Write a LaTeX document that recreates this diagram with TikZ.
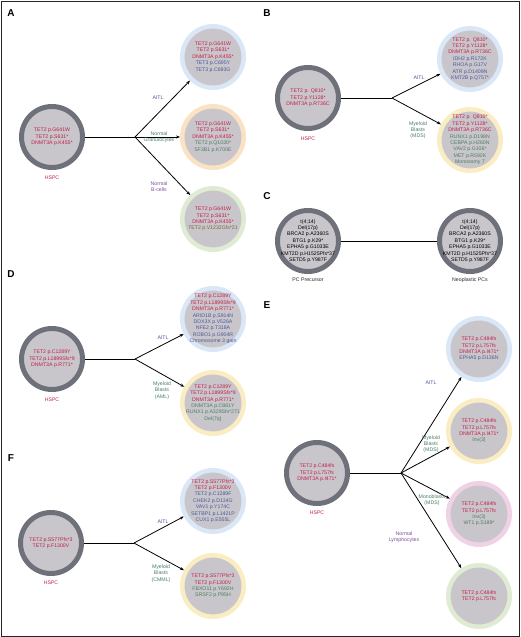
\documentclass[tikz,border=0pt]{standalone}
\usepackage{fontspec}
\setmainfont{Liberation Sans}
\usetikzlibrary{arrows.meta}
\definecolor{tred}{RGB}{194,31,74}
\definecolor{tblue}{RGB}{74,90,156}
\definecolor{tgreen}{RGB}{74,127,99}
\definecolor{tpurple}{RGB}{123,79,154}
\definecolor{tolive}{RGB}{122,100,58}
\definecolor{hsring}{RGB}{110,112,122}
\definecolor{cellfill}{RGB}{201,198,203}
\definecolor{rblue}{RGB}{218,231,247}
\definecolor{rorange}{RGB}{249,227,196}
\definecolor{ryellow}{RGB}{250,237,196}
\definecolor{rgreen}{RGB}{224,235,211}
\definecolor{rpink}{RGB}{240,210,230}
\newcommand{\redln}[1]{\textcolor{tred}{#1}}
\newcommand{\bluln}[1]{\textcolor{tblue}{#1}}
\newcommand{\grnln}[1]{\textcolor{tgreen}{#1}}
\newcommand{\olvln}[1]{\textcolor{tolive}{#1}}
\tikzset{
  ring/.style={circle, draw=#1, line width=4.5pt, fill=cellfill, minimum size=61.5pt, inner sep=0pt},
  hsring/.style={circle, draw=hsring, line width=5pt, fill=cellfill, minimum size=61pt, inner sep=0pt},
  celltext/.style={align=center, inner sep=0pt, font=\fontsize{5.2}{6.4}\selectfont},
  lbl/.style={align=center, inner sep=0pt, font=\fontsize{5.2}{6.3}\selectfont},
  panel/.style={inner sep=0pt, font=\fontsize{10}{12}\selectfont\bfseries},
  conn/.style={line width=0.8pt, black},
  arr/.style={line width=0.8pt, black, -{Stealth[length=4pt,width=3pt]}}
}
\begin{document}
\begin{tikzpicture}[x=1pt,y=-1pt]
\useasboundingbox (0,0) rectangle (520,637);
\draw[line width=1pt, black!85] (1,1) rectangle (519,636);

% ---------- Panel A
\node[panel] (pA) at (11,13) {A};
\node[hsring] (ha) at (52,137) {};
\node[celltext] (hat) at (ha) {\redln{TET2 p.G641W}\\\redln{TET2 p.S631*}\\\redln{DNMT3A p.K455*}};
\node[lbl, text=tred] (hal) at (52,178) {HSPC};
\coordinate (ja) at (135,137);
\node[ring=rblue] (a1) at (213,57) {};
\node[celltext] (a1t) at (a1) {\redln{TET2 p.G641W}\\\redln{TET2 p.S631*}\\\redln{DNMT3A p.K455*}\\\bluln{TET3 p.C695Y}\\\bluln{TET3 p.C693G}};
\node[ring=rorange] (a2) at (213,137) {};
\node[celltext] (a2t) at (a2) {\redln{TET2 p.G641W}\\\redln{TET2 p.S631*}\\\redln{DNMT3A p.K455*}\\\grnln{TET2 p.Q1030*}\\\grnln{SF3B1 p.K700E}};
\node[ring=rgreen] (a3) at (213,219) {};
\node[celltext] (a3t) at (a3) {\redln{TET2 p.G641W}\\\redln{TET2 p.S631*}\\\redln{DNMT3A p.K455*}\\\olvln{TET2 p.V1232Gfs*21}};
\draw[conn] (ha) -- (ja);
\draw[arr] (ja) -- (a1);
\draw[arr] (ja) -- (a2);
\draw[arr] (ja) -- (a3);
\node[lbl, text=tblue] (la1) at (158,98) {AITL};
\node[lbl, text=tgreen] (la2) at (159,137.5) {Normal\\Granulocytes};
\node[lbl, text=tpurple] (la3) at (159,186.5) {Normal\\B-cells};

% ---------- Panel B
\node[panel] (pB) at (267,13) {B};
\node[hsring] (hb) at (308,98) {};
\node[celltext] (hbt) at (hb) {\redln{TET2 p. Q810*}\\\redln{TET2 p.Y1128*}\\\redln{DNMT3A p.R736C}};
\node[lbl, text=tred] (hbl) at (308,139) {HSPC};
\coordinate (jb) at (392,98);
\node[ring=rblue] (b1) at (470,59) {};
\node[celltext] (b1t) at (b1) {\redln{TET2 p. Q810*}\\\redln{TET2 p.Y1128*}\\\redln{DNMT3A p.R736C}\\\bluln{IDH2 p.R172K}\\\bluln{RHOA p.G17V}\\\bluln{ATR p.D1409N}\\\bluln{KMT2B p.Q757*}};
\node[ring=ryellow] (b2) at (470,140) {};
\node[celltext] (b2t) at (b2) {\redln{TET2 p. Q810*}\\\redln{TET2 p.Y1128*}\\\redln{DNMT3A p.R736C}\\\grnln{RUNX1 p.D198N}\\\grnln{CEBPA p.H260N}\\\grnln{VAV2 p.G106*}\\\grnln{MET p.R592K}\\\grnln{Monosomy 7}};
\draw[conn] (hb) -- (jb);
\draw[arr] (jb) -- (b1);
\draw[arr] (jb) -- (b2);
\node[lbl, text=tblue] (lb1) at (419,78) {AITL};
\node[lbl, text=tgreen] (lb2) at (418,130) {Myeloid\\Blasts\\(MDS)};

% ---------- Panel C
\node[panel] (pC) at (267,196) {C};
\node[hsring] (c1) at (308,241) {};
\node[celltext] (c1t) at (c1) {t(4;14)\\Del(17p)\\BRCA2 p.A2360S\\BTG1 p.K29*\\EPHA5 p.G1033E\\KMT2D p.H1525Pfs*37\\SETD5 p.Y987F};
\node[hsring] (c2) at (470,241) {};
\node[celltext] (c2t) at (c2) {t(4;14)\\Del(17p)\\BRCA2 p.A2360S\\BTG1 p.K29*\\EPHA5 p.G1033E\\KMT2D p.H1525Pfs*37\\SETD5 p.Y987F};
\draw[conn] (c1) -- (c2);
\node[lbl, text=black!85] (lc1) at (308,280) {PC Precursor};
\node[lbl, text=black!85] (lc2) at (470,280) {Neoplastic PCs};

% ---------- Panel D
\node[panel] (pD) at (11,274) {D};
\node[hsring] (hd) at (52,359) {};
\node[celltext] (hdt) at (hd) {\redln{TET2 p.C1289Y}\\\redln{TET2 p.L1899Sfs*9}\\\redln{DNMT3A p.R771*}};
\node[lbl, text=tred] (hdl) at (52,400) {HSPC};
\coordinate (jd) at (135,359);
\node[ring=rblue] (d1) at (213,319) {};
\node[celltext] (d1t) at (d1) {\redln{TET2 p.C1289Y}\\\redln{TET2 p.L1899Sfs*9}\\\redln{DNMT3A p.R771*}\\\bluln{ARID1B p.S914N}\\\bluln{DDX3X p.V526A}\\\bluln{NFE2 p.T318A}\\\bluln{ROBO1 p.G904R}\\\bluln{Chromosome 3 gain}};
\node[ring=ryellow] (d2) at (213,403) {};
\node[celltext] (d2t) at (d2) {\redln{TET2 p.C1289Y}\\\redln{TET2 p.L1899Sfs*9}\\\redln{DNMT3A p.R771*}\\\grnln{DNMT3A p.C861Y}\\\grnln{RUNX1 p.A329Sfs*271}\\\grnln{Del(7q)}};
\draw[conn] (hd) -- (jd);
\draw[arr] (jd) -- (d1);
\draw[arr] (jd) -- (d2);
\node[lbl, text=tblue] (ld1) at (163,338) {AITL};
\node[lbl, text=tgreen] (ld2) at (162,390.5) {Myeloid\\Blasts\\(AML)};

% ---------- Panel E
\node[panel] (pE) at (267,305) {E};
\node[hsring] (he) at (317,473) {};
\node[celltext] (het) at (he) {\redln{TET2 p.C484fs}\\\redln{TET2 p.L757fs}\\\redln{DNMT3A p.I471*}};
\node[lbl, text=tred] (hel) at (317,513) {HSPC};
\coordinate (je) at (401,473);
\node[ring=rblue] (e1) at (479,349) {};
\node[celltext] (e1t) at (e1) {\redln{TET2 p.C484fs}\\\redln{TET2 p.L757fs}\\\redln{DNMT3A p.I471*}\\\bluln{EPHA5 p.D136N}};
\node[ring=ryellow] (e2) at (479,431) {};
\node[celltext] (e2t) at (e2) {\redln{TET2 p.C484fs}\\\redln{TET2 p.L757fs}\\\redln{DNMT3A p.I471*}\\\grnln{Inv(3)}};
\node[ring=rpink] (e3) at (479,514) {};
\node[celltext] (e3t) at (e3) {\redln{TET2 p.C484fs}\\\redln{TET2 p.L757fs}\\\grnln{Inv(3)}\\\grnln{WT1 p.S189*}};
\node[ring=rgreen] (e4) at (479,596) {};
\node[celltext] (e4t) at (e4) {\redln{TET2 p.C484fs}\\\redln{TET2 p.L757fs}};
\draw[conn] (he) -- (je);
\draw[arr] (je) -- (e1);
\draw[arr] (je) -- (e2);
\draw[arr] (je) -- (e3);
\draw[arr] (je) -- (e4);
\node[lbl, text=tblue] (le1) at (431,383) {AITL};
\node[lbl, text=tgreen] (le2) at (431,444) {Myeloid\\Blasts\\(MDS)};
\node[lbl, text=tgreen] (le3) at (432,500) {Monoblasts\\(MDS)};
\node[lbl, text=tpurple] (le4) at (404,537) {Normal\\Lymphocytes};

% ---------- Panel F
\node[panel] (pF) at (11,458) {F};
\node[hsring] (hf) at (51,543) {};
\node[celltext] (hft) at (hf) {\redln{TET2 p.S577Pfs*3}\\\redln{TET2 p.F1300V}};
\node[lbl, text=tred] (hfl) at (51,583) {HSPC};
\coordinate (jf) at (134,543);
\node[ring=rblue] (f1) at (213,501) {};
\node[celltext] (f1t) at (f1) {\redln{TET2 p.S577Pfs*3}\\\redln{TET2 p.F1300V}\\\bluln{TET2 p.C1289F}\\\bluln{CHEK2 p.D134G}\\\bluln{VAV1 p.Y174C}\\\bluln{SETBP1 p.L1421P}\\\bluln{CUX1 p.E555L}};
\node[ring=ryellow] (f2) at (213,586) {};
\node[celltext] (f2t) at (f2) {\redln{TET2 p.S577Pfs*3}\\\redln{TET2 p.F1300V}\\\grnln{FBXO11 p.Y692H}\\\grnln{SRSF2 p.P95H}};
\draw[conn] (hf) -- (jf);
\draw[arr] (jf) -- (f1);
\draw[arr] (jf) -- (f2);
\node[lbl, text=tblue] (lf1) at (163,522) {AITL};
\node[lbl, text=tgreen] (lf2) at (161,573.5) {Myeloid\\Blasts\\(CMML)};
\end{tikzpicture}
\end{document}
